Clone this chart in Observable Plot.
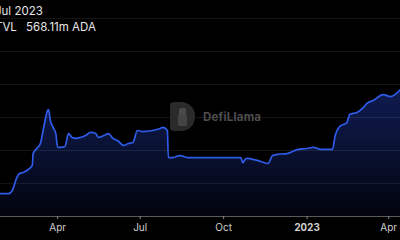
<!DOCTYPE html>
<html>
<head>
<meta charset="utf-8">
<script src="https://cdn.jsdelivr.net/npm/d3@7"></script>
<script src="https://cdn.jsdelivr.net/npm/@observablehq/plot@0.6"></script>
<style>
  html, body { margin: 0; padding: 0; background: #000; }
  #wrap { position: relative; width: 400px; height: 240px; overflow: hidden; background: #000; font-family: Inter, "Noto Sans", sans-serif; }
  #hdr { position: absolute; left: -5px; top: 3px; color: #e6e6e6; font-size: 11.5px; line-height: 16px; z-index: 2; }
  #hdr .v { margin-left: 6px; }
  #wm { position: absolute; left: 170px; top: 102px; width: 100px; height: 30px; z-index: 1; }
  #wm .logo { position: absolute; left: 0; top: 0; width: 25px; height: 29px; background: #2a2a2a; border-radius: 4px 14px 14px 4px; }
  #wm .head { position: absolute; left: 9px; top: 6px; width: 7px; height: 8px; background: #4a4a4a; border-radius: 2px; }
  #wm .body { position: absolute; left: 8px; top: 12px; width: 9px; height: 12px; background: #444; border-radius: 2px 2px 0 0; }
  #wm .txt { position: absolute; left: 33px; top: 8px; color: #4d4d4d; font-weight: 700; font-size: 11.5px; letter-spacing: 0.2px; }
  svg { position: absolute; left: 0; top: 0; }
</style>
</head>
<body>
<div id="wrap">
  <div id="hdr"><div>Jul 2023</div><div>TVL <span class="v">568.11m ADA</span></div></div>
  <div id="wm"><div class="logo"><div class="head"></div><div class="body"></div></div><div class="txt">DefiLlama</div></div>
</div>
<script>
const dates = [
  "2022-01-28","2022-02-06","2022-02-10","2022-02-15","2022-02-18","2022-02-22","2022-02-26",
  "2022-03-04","2022-03-05","2022-03-09","2022-03-13","2022-03-16","2022-03-21","2022-03-22",
  "2022-03-24","2022-03-27","2022-03-30","2022-04-01","2022-04-04","2022-04-09","2022-04-13",
  "2022-04-17","2022-04-21","2022-04-26","2022-05-02","2022-05-07","2022-05-13","2022-05-16",
  "2022-05-22","2022-05-27","2022-06-01","2022-06-06","2022-06-13","2022-06-18","2022-06-23",
  "2022-06-28","2022-07-04","2022-07-15","2022-07-23","2022-07-26","2022-07-31","2022-08-01",
  "2022-08-06","2022-08-14","2022-08-22","2022-09-05","2022-09-20","2022-10-20","2022-10-22",
  "2022-10-26","2022-11-07","2022-11-19","2022-11-24","2022-11-29","2022-12-10","2022-12-22",
  "2023-01-01","2023-01-08","2023-01-16","2023-01-29","2023-02-01","2023-02-06","2023-02-14",
  "2023-02-17","2023-02-25","2023-03-04","2023-03-08","2023-03-15","2023-03-26","2023-04-03",
  "2023-04-14"
];
const tvl = [
  104, 104, 118, 177, 195, 200, 209,
  232, 286, 309, 332, 391, 482, 486,
  436, 405, 377, 314, 314, 318, 377,
  359, 355, 359, 368, 382, 377, 359,
  368, 377, 355, 345, 323, 332, 336,
  391, 386, 391, 400, 405, 391, 268,
  268, 277, 268, 268, 268, 268, 245,
  264, 255, 241, 277, 282, 286, 305,
  309, 314, 305, 305, 368, 409, 427,
  464, 473, 495, 514, 527, 554, 545,
  577
];
const tickDates = ["2022-04-01","2022-07-01","2022-10-01","2023-01-01","2023-04-01"];
const tickLabels = ["Apr","Jul","Oct","2023","Apr"];
const gridValues = [150, 300, 450, 600, 750, 900];

const data = dates.map((d, i) => ({date: new Date(d), value: tvl[i]}));
const ticks = tickDates.map(d => new Date(d));

const chart = Plot.plot({
  width: 400,
  height: 240,
  marginLeft: 0,
  marginRight: 0,
  marginTop: 18,
  marginBottom: 24,
  style: {background: "transparent", color: "#cfcfcf", fontFamily: "Inter, 'Noto Sans', sans-serif", fontSize: "10px"},
  x: {type: "utc", domain: [new Date("2022-01-28"), new Date("2023-04-14")]},
  y: {domain: [0, 900], axis: null},
  marks: [
    Plot.areaY(data, {x: "date", y: "value", fill: "url(#tvlGrad)", curve: "monotone-x"}),
    Plot.ruleY(gridValues, {stroke: "#ffffff", strokeOpacity: 0.08, strokeWidth: 1}),
    Plot.lineY(data, {x: "date", y: "value", stroke: "#2f5be8", strokeWidth: 1.7, curve: "monotone-x"}),
    Plot.ruleY([0], {stroke: "#5a5a5a", strokeWidth: 1}),
    Plot.axisX({ticks: ticks, tickFormat: (d, i) => tickLabels[i], tickSize: 3, tickPadding: 4, stroke: "#8a8a8a", fill: "#cfcfcf", fontSize: 10, label: null})
  ]
});

const ns = "http://www.w3.org/2000/svg";
const defs = document.createElementNS(ns, "defs");
const grad = document.createElementNS(ns, "linearGradient");
grad.setAttribute("id", "tvlGrad");
grad.setAttribute("x1", "0"); grad.setAttribute("y1", "0");
grad.setAttribute("x2", "0"); grad.setAttribute("y2", "1");
[["0%", "#101b50"], ["50%", "#091132"], ["100%", "#02030c"]].forEach(([o, c]) => {
  const s = document.createElementNS(ns, "stop");
  s.setAttribute("offset", o); s.setAttribute("stop-color", c);
  grad.appendChild(s);
});
defs.appendChild(grad);
chart.insertBefore(defs, chart.firstChild);
chart.querySelectorAll("text").forEach(t => { if (t.textContent === "2023") t.setAttribute("font-weight", "700"); });

document.getElementById("wrap").appendChild(chart);
</script>
</body>
</html>
